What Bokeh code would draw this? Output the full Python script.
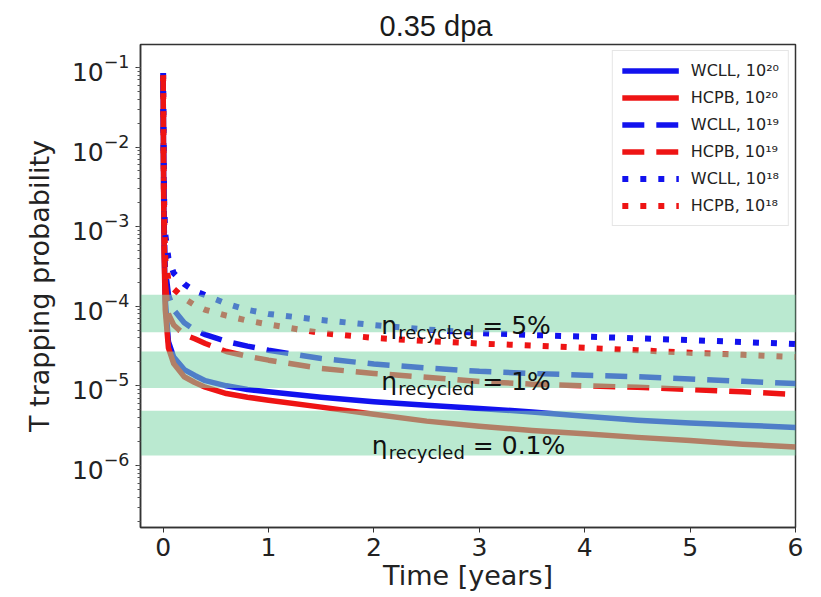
from bokeh.plotting import figure
from bokeh.models import Range1d, Legend, LegendItem, FixedTicker, ColumnDataSource
from bokeh.core.properties import value
from bokeh.embed import file_html
from bokeh.resources import INLINE

# ---- data ----
time_years = [0.0, 0.005, 0.01, 0.02, 0.05, 0.1, 0.2, 0.3, 0.4, 0.6, 0.8, 1.0,
              1.5, 2.0, 2.5, 3.0, 3.5, 4.0, 4.5, 5.0, 5.5, 6.0]

wcll_1e20 = [0.08, 3e-3, 5e-4, 1.2e-4, 3.6e-5, 2.3e-5, 1.6e-5, 1.35e-5, 1.16e-5, 1.0e-5,
             9.0e-6, 8.4e-6, 7.2e-6, 6.3e-6, 5.7e-6, 5.2e-6, 4.7e-6, 4.15e-6, 3.7e-6,
             3.4e-6, 3.2e-6, 3.0e-6]
hcpb_1e20 = [0.08, 2e-3, 4e-4, 9e-5, 3.0e-5, 1.9e-5, 1.3e-5, 1.1e-5, 9.6e-6, 8.0e-6,
             7.2e-6, 6.6e-6, 5.4e-6, 4.4e-6, 3.6e-6, 3.1e-6, 2.75e-6, 2.5e-6, 2.25e-6,
             2.05e-6, 1.85e-6, 1.7e-6]
wcll_1e19 = [0.08, 5e-3, 1e-3, 3e-4, 1.4e-4, 9e-5, 6.2e-5, 5.0e-5, 4.4e-5, 3.6e-5,
             3.15e-5, 2.8e-5, 2.2e-5, 1.88e-5, 1.68e-5, 1.52e-5, 1.43e-5, 1.36e-5,
             1.3e-5, 1.22e-5, 1.14e-5, 1.07e-5]
hcpb_1e19 = [0.08, 3e-3, 6e-4, 2e-4, 8e-5, 5.8e-5, 4.4e-5, 3.9e-5, 3.4e-5, 2.7e-5,
             2.35e-5, 2.1e-5, 1.65e-5, 1.43e-5, 1.28e-5, 1.13e-5, 1.05e-5, 1.0e-5,
             9.6e-6, 9.0e-6, 8.4e-6, 7.8e-6]
wcll_1e18 = [0.085, 8e-3, 2e-3, 8e-4, 4e-4, 2.6e-4, 1.9e-4, 1.55e-4, 1.38e-4, 1.08e-4,
             9e-5, 8e-5, 6.7e-5, 5.8e-5, 5.1e-5, 4.6e-5, 4.35e-5, 4.15e-5, 3.95e-5,
             3.75e-5, 3.55e-5, 3.35e-5]
hcpb_1e18 = [0.08, 5e-3, 1.2e-3, 4e-4, 2.1e-4, 1.65e-4, 1.25e-4, 1.03e-4, 9e-5, 7.6e-5,
             6.6e-5, 5.9e-5, 4.6e-5, 4.0e-5, 3.65e-5, 3.4e-5, 3.2e-5, 3.0e-5, 2.8e-5,
             2.6e-5, 2.45e-5, 2.3e-5]

series_labels = ["WCLL, 10²⁰", "HCPB, 10²⁰", "WCLL, 10¹⁹", "HCPB, 10¹⁹",
                 "WCLL, 10¹⁸", "HCPB, 10¹⁸"]

band_low = [4.7e-5, 9.4e-6, 1.33e-6]
band_high = [1.39e-4, 2.7e-5, 4.85e-6]
band_text = ["= 5%", "= 1%", "= 0.1%"]

x_ticks = [0, 1, 2, 3, 4, 5, 6]

# ---- figure ----
FONT = "DejaVu Sans"
p = figure(width=821, height=597, output_backend="svg", toolbar_location=None,
           y_axis_type="log",
           x_range=Range1d(-0.215, 6.0),
           y_range=Range1d(10 ** -6.78, 10 ** -0.712),
           min_border_left=140, min_border_right=26, min_border_top=44,
           min_border_bottom=70)
p.background_fill_color = "white"
p.border_fill_color = "white"
p.outline_line_color = "#333333"
p.outline_line_width = 1.5
p.xgrid.visible = False
p.ygrid.visible = False

# title
p.title.text = "0.35 dpa"
p.title.text_font = "Liberation Sans"
p.title.text_font_size = "29px"
p.title.text_font_style = "normal"
p.title.text_color = "#1a1a1a"
p.title.align = "left"
p.title.offset = 239
p.title.standoff = 6

BLUE = "#1212ee"
RED = "#ee1414"
series = [
    (wcll_1e20, BLUE, "solid"),
    (hcpb_1e20, RED, "solid"),
    (wcll_1e19, BLUE, "22 12"),
    (hcpb_1e19, RED, "22 12"),
    (wcll_1e18, BLUE, "6 12"),
    (hcpb_1e18, RED, "6 12"),
]
items = []
for (vals, col, dash), lab in zip(series, series_labels):
    src = ColumnDataSource(dict(t=time_years, v=vals))
    r = p.line("t", "v", source=src, line_color=col, line_width=5.5 if dash != "6 12" else 6,
               line_dash=dash, line_cap="butt", line_join="round")
    items.append(LegendItem(label=lab, renderers=[r]))

# green bands drawn over the curves
band_src = ColumnDataSource(dict(bottom=band_low, top=band_high,
                                 left=[-1.0] * len(band_low), right=[7.0] * len(band_low)))
p.quad(left="left", right="right", bottom="bottom", top="top", source=band_src,
       fill_color="#82d7aa", fill_alpha=0.55, line_color=None)

# annotations eta_recycled = ...
lab_src = ColumnDataSource(dict(x=[2.07, 2.07, 1.98], y=[5.67e-5, 1.13e-5, 1.78e-6],
                                eta=["η"] * 3, sub=["recycled"] * 3, rest=band_text))
p.text("x", "y", text="eta", source=lab_src, text_font=value(FONT),
       text_font_size=value("25px"), text_color="#111111",
       text_baseline="alphabetic", text_align="left")
p.text("x", "y", text="sub", source=lab_src, text_font=value(FONT),
       text_font_size=value("18px"), text_color="#111111",
       text_baseline="alphabetic", text_align="left", x_offset=17, y_offset=7)
p.text("x", "y", text="rest", source=lab_src, text_font=value(FONT),
       text_font_size=value("25px"), text_color="#111111",
       text_baseline="alphabetic", text_align="left", x_offset=101)

# axes
p.xaxis.ticker = FixedTicker(ticks=x_ticks)
p.xaxis.axis_label = "Time [years]"
p.yaxis.axis_label = "T trapping probability"
for ax in (p.xaxis, p.yaxis):
    ax.axis_label_text_font = FONT
    ax.axis_label_text_font_size = "27px"
    ax.axis_label_text_font_style = "normal"
    ax.axis_label_text_color = "#222222"
    ax.major_label_text_font = FONT
    ax.major_label_text_color = "#222222"
    ax.axis_line_color = "#333333"
    ax.axis_line_width = 1.5
    ax.major_tick_line_color = "#333333"
    ax.minor_tick_line_color = "#555555"
    ax.major_tick_out = 5
    ax.major_tick_in = 0
    ax.minor_tick_out = 3
    ax.minor_tick_in = 0
p.xaxis.major_label_text_font_size = "25px"
p.yaxis.major_label_text_font_size = "25px"
p.xaxis.minor_tick_line_color = None
p.xaxis.major_label_standoff = 5
p.xaxis.axis_label_standoff = 1
p.yaxis.major_label_standoff = 6
p.yaxis.axis_label_standoff = 14

legend = Legend(items=items, location="top_right")
legend.label_text_font = FONT
legend.label_text_font_size = "16px"
legend.label_text_color = "#222222"
legend.glyph_width = 57
legend.glyph_height = 21
legend.label_height = 21
legend.spacing = 6
legend.label_standoff = 12
legend.padding = 9
legend.margin = 6
legend.border_line_color = "#cccccc"
legend.border_line_width = 1
legend.background_fill_alpha = 0.85
p.add_layout(legend)

open("out.html", "w").write(file_html(p, INLINE))
